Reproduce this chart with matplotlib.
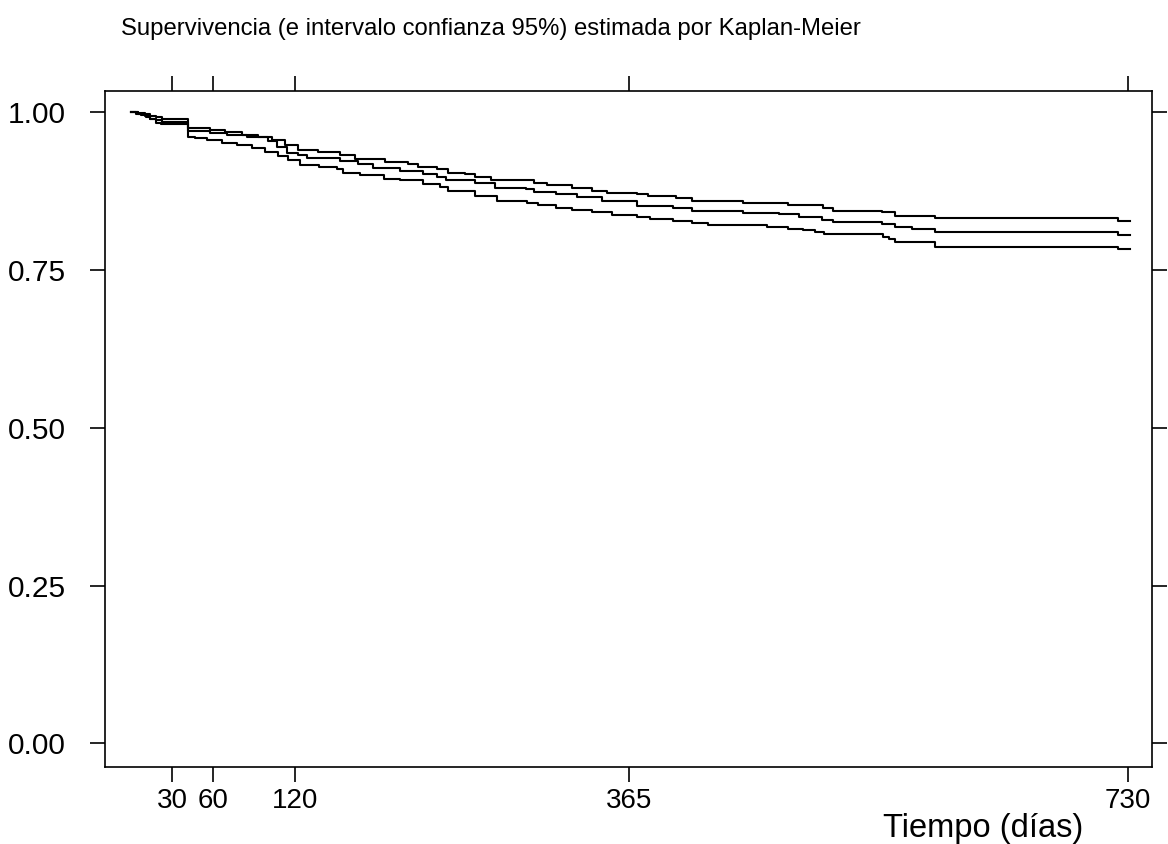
import matplotlib
matplotlib.use("Agg")
import matplotlib.pyplot as plt

plt.rcParams["font.family"] = ["Liberation Sans", "DejaVu Sans"]

# Kaplan-Meier estimate and 95% CI (days, survival)
est_days = [0, 4, 7, 11, 14, 18, 23, 42, 58, 70, 85, 100, 107, 114, 122, 129, 144,
            153, 166, 177, 197, 214, 224, 231, 252, 267, 289, 295, 311, 327, 345,
            371, 397, 411, 448, 475, 489, 506, 514, 550, 560, 572, 589, 723, 732]
est_surv = [1.000, 0.998, 0.996, 0.993, 0.990, 0.988, 0.985, 0.970, 0.968, 0.965,
            0.961, 0.954, 0.945, 0.936, 0.932, 0.928, 0.927, 0.923, 0.919, 0.912,
            0.907, 0.903, 0.898, 0.893, 0.888, 0.881, 0.878, 0.874, 0.871, 0.866,
            0.860, 0.852, 0.848, 0.844, 0.841, 0.839, 0.835, 0.830, 0.826, 0.823,
            0.818, 0.815, 0.810, 0.806, 0.806]

up_days = [0, 5, 10, 14, 18, 23, 42, 58, 69, 81, 93, 103, 113, 122, 137, 153, 164,
           186, 203, 210, 224, 232, 245, 252, 264, 295, 305, 323, 338, 349, 371,
           379, 399, 411, 448, 481, 507, 514, 550, 560, 589, 723, 732]
up_surv = [1.000, 0.999, 0.997, 0.994, 0.992, 0.989, 0.975, 0.972, 0.969, 0.965,
           0.961, 0.956, 0.948, 0.940, 0.937, 0.932, 0.926, 0.921, 0.918, 0.914,
           0.910, 0.904, 0.902, 0.898, 0.893, 0.888, 0.885, 0.880, 0.876, 0.873,
           0.870, 0.867, 0.864, 0.860, 0.857, 0.853, 0.849, 0.844, 0.842, 0.836,
           0.832, 0.828, 0.828]

lo_days = [0, 5, 10, 14, 18, 22, 42, 47, 56, 67, 78, 89, 98, 108, 115, 124, 138,
           151, 155, 168, 185, 197, 214, 226, 232, 252, 268, 290, 298, 311, 323,
           338, 352, 371, 380, 397, 411, 423, 466, 481, 492, 501, 508, 551, 555,
           560, 589, 723, 732]
lo_surv = [1.000, 0.997, 0.994, 0.990, 0.984, 0.981, 0.961, 0.959, 0.956, 0.952,
           0.949, 0.944, 0.938, 0.931, 0.924, 0.916, 0.913, 0.910, 0.904, 0.901,
           0.895, 0.893, 0.887, 0.882, 0.875, 0.868, 0.860, 0.856, 0.854, 0.849,
           0.845, 0.842, 0.838, 0.835, 0.831, 0.828, 0.825, 0.822, 0.819, 0.816,
           0.813, 0.811, 0.807, 0.803, 0.800, 0.795, 0.787, 0.783, 0.783]

x_ticks = [30, 60, 120, 365, 730]
y_ticks = [0.00, 0.25, 0.50, 0.75, 1.00]
y_labels = ["0.00", "0.25", "0.50", "0.75", "1.00"]

fig = plt.figure(figsize=(11.68, 8.44), dpi=100)
ax = fig.add_axes([0.0896, 0.0916, 0.897, 0.8006])

for d, s in [(up_days, up_surv), (est_days, est_surv), (lo_days, lo_surv)]:
    ax.step(d, s, where="post", color="black", lw=1.5)

ax.set_xlim(-19.3, 748.2)
ax.set_ylim(-0.037, 1.034)
ax.set_xticks(x_ticks)
ax.set_xticklabels([str(t) for t in x_ticks])
ax.set_yticks(y_ticks)
ax.set_yticklabels(y_labels)

for sp in ax.spines.values():
    sp.set_linewidth(1.2)
ax.tick_params(axis="both", direction="out", length=11, width=1.2,
               top=True, right=True, labelsize=20)
ax.tick_params(axis="y", labelsize=21.5, pad=17)
ax.tick_params(axis="x", pad=4)

fig.text(121 / 1168, 1 - 35 / 844,
         "Supervivencia (e intervalo confianza 95%) estimada por Kaplan-Meier",
         fontsize=17.2, ha="left", va="baseline")
fig.text(1083 / 1168, 1 - 829 / 844, "Tiempo (días)",
         fontsize=23.5, ha="right", va="center")

fig.savefig("out.png", dpi=100)
